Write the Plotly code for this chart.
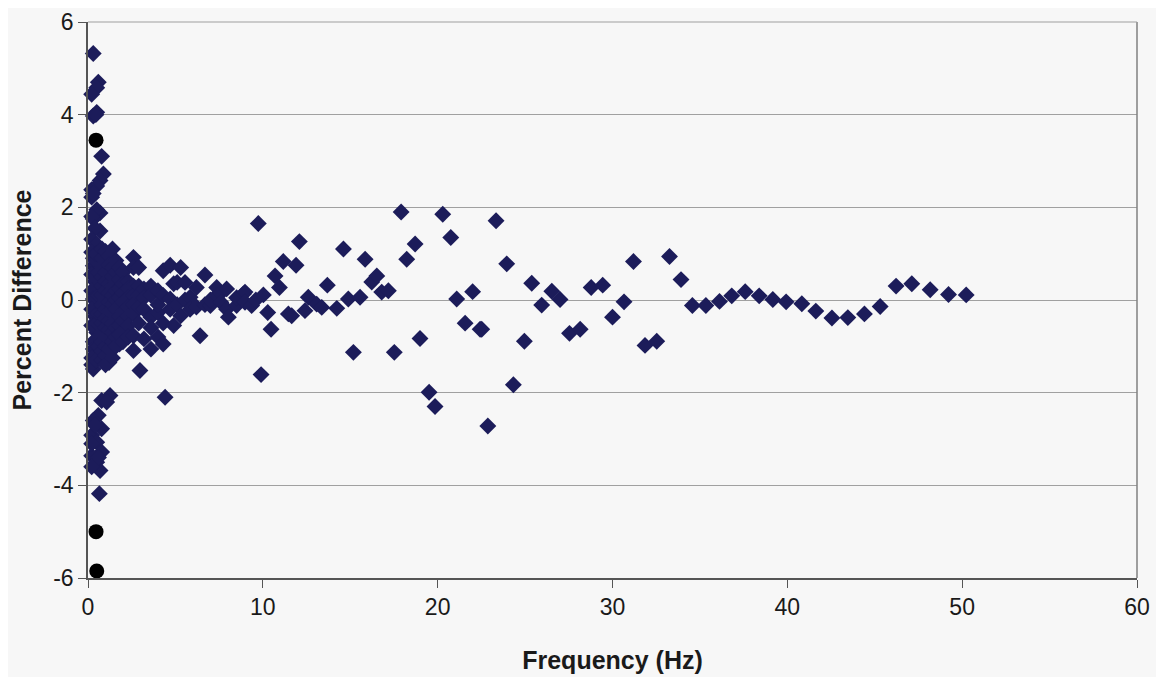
import plotly.graph_objects as go

# Diamond series (Frequency Hz, Percent Difference)
freq = [
    # near-zero column
    0.30, 0.59, 0.50, 0.21, 0.50, 0.30, 0.45, 0.78, 0.88, 0.69, 0.50, 0.21, 0.21, 0.30,
    0.69, 0.50, 0.30, 0.21, 0.69, 0.40, 0.21, 0.50, 0.21, 0.30, 0.30, 0.21, 0.40, 0.21,
    0.30, 0.21, 0.40, 0.50, 0.21, 0.30, 0.30, 0.21, 0.30, 0.21, 0.45, 0.60, 0.50, 0.60,
    0.60, 0.45, 0.60, 0.45,
    0.78, 0.59, 0.30, 0.78, 0.21, 0.50, 0.78, 0.21, 0.50, 0.69, 0.65, 0.21, 0.40, 0.60,
    0.21, 1.26, 1.07,
    # dense cluster
    0.8, 0.8, 0.8, 0.8, 0.8, 0.8, 0.8, 0.8, 0.8, 0.8, 0.8, 0.8, 0.8,
    1.0, 1.0, 1.0, 1.0, 1.0, 1.0, 1.0, 1.0, 1.0, 1.0, 1.0, 1.0, 1.0,
    1.2, 1.2, 1.2, 1.2, 1.2, 1.2, 1.2, 1.2, 1.2, 1.2, 1.2, 1.2,
    1.4, 1.4, 1.4, 1.4, 1.4, 1.4, 1.4, 1.4, 1.4, 1.4, 1.4,
    1.6, 1.6, 1.6, 1.6, 1.6, 1.6, 1.6, 1.6, 1.6, 1.6,
    1.8, 1.8, 1.8, 1.8, 1.8, 1.8, 1.8, 1.8, 1.8,
    2.0, 2.0, 2.0, 2.0, 2.0, 2.0, 2.0, 2.0,
    2.3, 2.3, 2.3, 2.3, 2.3, 2.3, 2.3,
    2.6, 2.6, 2.6, 2.6, 2.6, 2.6, 2.6, 2.6,
    2.9, 2.9, 2.9, 2.9, 2.9, 2.97,
    3.2, 3.2, 3.2, 3.2,
    3.6, 3.6, 3.6, 3.6, 3.6,
    4.0, 4.0, 4.0, 4.0,
    4.3, 4.3, 4.3, 4.3, 4.41,
    4.7, 4.7, 4.7, 4.9, 4.9, 5.1, 5.1, 5.3, 5.3, 5.55, 5.55, 5.84, 5.84,
    6.2, 6.2, 6.41, 6.69, 6.69, 7.0, 7.0, 7.36, 7.36, 7.6, 7.6, 7.93, 7.93, 8.03,
    8.5, 8.5, 8.89, 8.98, 8.98, 9.36, 9.6,
    # 9-50 Hz scatter
    9.74, 9.90, 10.03, 10.28, 10.47, 10.70, 10.95, 11.17, 11.46, 11.65, 11.90, 12.09,
    12.41, 12.60, 13.08, 13.37, 13.69, 14.23, 14.61, 14.89, 15.18, 15.56, 15.85,
    16.23, 16.52, 16.80, 17.18, 17.52, 17.91, 18.23, 18.71, 18.99, 19.51, 19.85,
    20.29, 20.75, 21.09, 21.57, 22.00, 22.43, 22.52, 22.87, 23.34, 23.95, 24.33,
    24.96, 25.38, 25.95, 26.53, 27.00, 27.54, 28.15, 28.78, 29.44, 30.00, 30.66,
    31.20, 31.86, 32.53, 33.26, 33.92, 34.57, 35.34, 36.12, 36.82, 37.59, 38.39,
    39.17, 39.93, 40.83, 41.63, 42.55, 43.46, 44.41, 45.31, 46.22, 47.12, 48.17,
    49.22, 50.23,
]
pct = [
    5.32, 4.70, 4.58, 4.44, 4.05, 3.97, 4.00, 3.10, 2.72, 2.58, 2.46, 2.38, 2.22, 2.30,
    1.88, 1.95, 1.75, 1.80, 1.49, 1.55, 1.31, 1.20, 1.03, 0.90, 0.74, 0.55, 0.40, 0.20,
    0.02, -0.20, -0.35, -0.70, -0.55, -0.90, -1.06, -1.25, -1.49, -1.40, -1.30, -1.00, -0.50, 0.60,
    0.10, 0.85, -0.30, 1.00,
    -2.17, -2.49, -2.60, -2.78, -2.92, -3.07, -3.28, -3.36, -3.50, -3.68, -4.18, -3.10, -2.70, -3.40,
    -3.60, -2.06, -2.20,
    1.1, 0.9, 0.7, 0.5, 0.3, 0.1, -0.1, -0.3, -0.5, -0.7, -0.9, -1.1, -1.3,
    1.05, 0.8, 0.6, 0.4, 0.2, 0.0, -0.2, -0.4, -0.6, -0.8, -1.0, -1.2, -1.4,
    0.95, 0.75, 0.55, 0.35, 0.15, -0.05, -0.25, -0.45, -0.65, -0.85, -1.05, -1.35,
    1.1, 0.7, 0.5, 0.3, 0.1, -0.1, -0.3, -0.5, -0.7, -0.9, -1.25,
    0.85, 0.6, 0.4, 0.2, 0.0, -0.2, -0.4, -0.6, -0.8, -1.0,
    0.7, 0.45, 0.25, 0.05, -0.15, -0.35, -0.55, -0.75, -0.95,
    0.6, 0.35, 0.15, -0.05, -0.25, -0.45, -0.7, -0.9,
    0.4, 0.25, 0.05, -0.15, -0.35, -0.55, -0.8,
    0.92, 0.7, 0.3, 0.1, -0.1, -0.3, -0.77, -1.09,
    0.7, 0.3, 0.1, -0.15, -0.5, -1.52,
    0.24, 0.05, -0.84, -0.2,
    0.3, 0.1, -0.37, -0.6, -1.06,
    0.2, -0.27, -0.1, -0.8,
    0.63, 0.1, -0.5, -0.95, -2.1,
    0.75, 0.02, -0.2, -0.55, 0.35, 0.38, -0.1, 0.7, -0.34, 0.38, 0.0, 0.06, -0.2,
    0.27, -0.15, -0.77, 0.54, -0.1, -0.12, 0.0, 0.27, 0.1, 0.15, -0.05, 0.24, -0.2, -0.37,
    -0.12, 0.05, 0.13, 0.17, -0.05, -0.12, 0.0,
    1.65, -1.61, 0.11, -0.27, -0.63, 0.52, 0.27, 0.83, -0.30, -0.34, 0.75, 1.26,
    -0.23, 0.06, -0.09, -0.16, 0.32, -0.18, 1.10, 0.02, -1.13, 0.06, 0.88,
    0.39, 0.52, 0.17, 0.20, -1.13, 1.90, 0.88, 1.21, -0.83, -1.99, -2.30,
    1.85, 1.35, 0.02, -0.50, 0.18, -0.63, -0.63, -2.72, 1.71, 0.78, -1.83,
    -0.89, 0.36, -0.11, 0.19, 0.01, -0.72, -0.63, 0.27, 0.32, -0.37, -0.04,
    0.83, -0.98, -0.89, 0.94, 0.44, -0.12, -0.12, -0.03, 0.09, 0.18, 0.09,
    0.01, -0.04, -0.08, -0.24, -0.39, -0.38, -0.30, -0.14, 0.30, 0.35, 0.22,
    0.12, 0.11,
]

# Circle series
freq_c = [0.46, 0.46, 0.50]
pct_c = [3.45, -5.00, -5.85]

x_ticks = [0, 10, 20, 30, 40, 50, 60]
y_ticks = [-6, -4, -2, 0, 2, 4, 6]

fig = go.Figure()
fig.add_trace(go.Scatter(
    x=freq, y=pct, mode="markers",
    marker=dict(symbol="diamond", size=13, color="#1c1c5a",
                line=dict(width=0)),
    showlegend=False, cliponaxis=False,
))
fig.add_trace(go.Scatter(
    x=freq_c, y=pct_c, mode="markers",
    marker=dict(symbol="circle", size=15, color="#000000"),
    showlegend=False, cliponaxis=False,
))

font_family = "Liberation Sans, Arial, sans-serif"
fig.update_layout(
    width=1148, height=669,
    margin=dict(l=80, r=19, t=14, b=99),
    paper_bgcolor="#f7f7f7", plot_bgcolor="#f7f7f7",
    font=dict(family=font_family, color="#1a1a1a", size=23),
    xaxis=dict(
        range=[0, 60], tickvals=x_ticks, ticktext=[str(v) for v in x_ticks],
        showgrid=False, zeroline=False, automargin=False,
        showline=True, linecolor="#555555", linewidth=1.5,
        ticks="outside", ticklen=8, tickcolor="#555555",
        title=dict(text="<b>Frequency (Hz)</b>", font=dict(size=25), standoff=32),
    ),
    yaxis=dict(
        range=[-6, 6], tickvals=y_ticks, ticktext=[str(v) for v in y_ticks],
        showgrid=True, gridcolor="#a0a0a0", gridwidth=1,
        zeroline=False, automargin=False,
        showline=True, linecolor="#555555", linewidth=1.5,
        ticks="outside", ticklen=8, tickcolor="#555555",
        title=dict(text="<b>Percent Difference</b>", font=dict(size=25), standoff=14),
    ),
    shapes=[
        dict(type="line", xref="paper", yref="paper", x0=1, x1=1, y0=0, y1=1,
             line=dict(color="#808080", width=1.5)),
        dict(type="line", xref="paper", yref="paper", x0=0, x1=1, y0=1, y1=1,
             line=dict(color="#a0a0a0", width=1.2)),
    ],
)

fig.write_html("out.html")
